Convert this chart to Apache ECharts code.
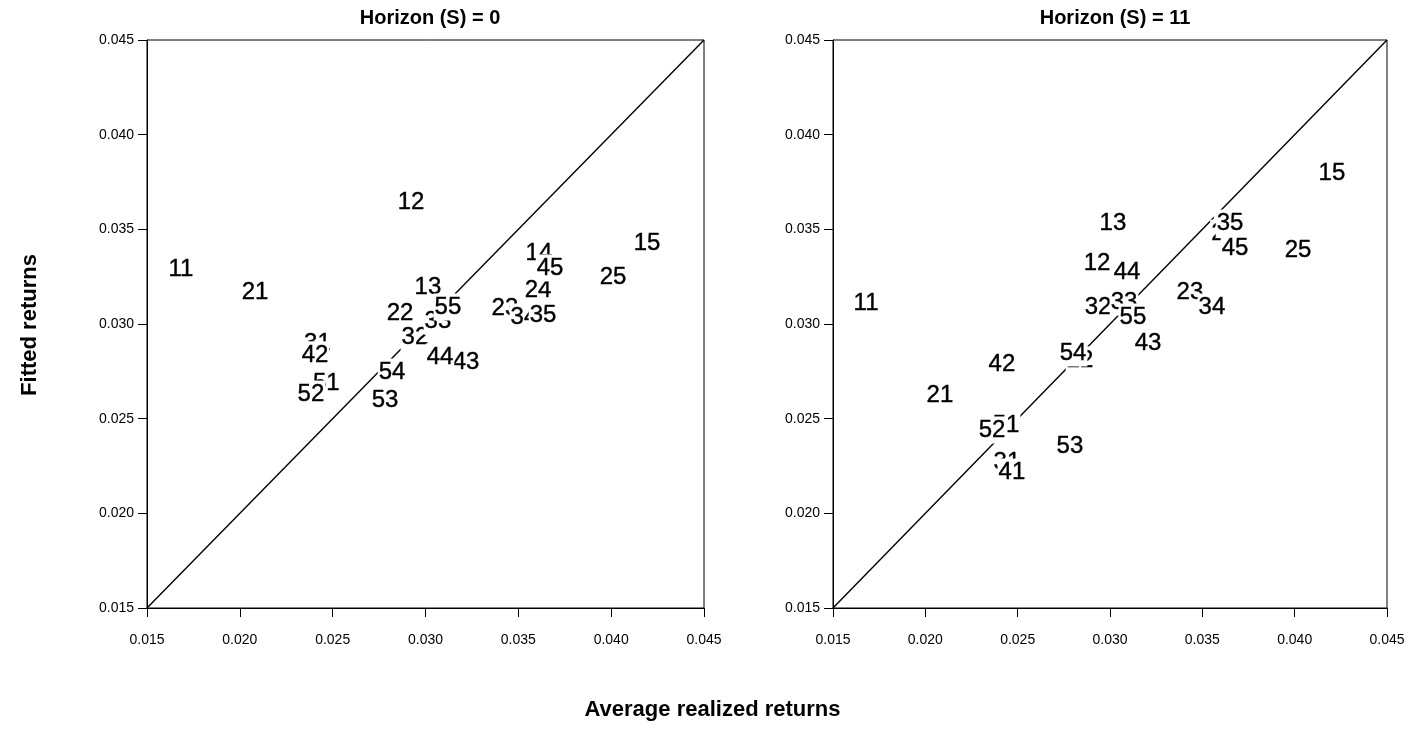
<!DOCTYPE html>
<html>
<head>
<meta charset="utf-8">
<script src="https://cdn.jsdelivr.net/npm/echarts@6/dist/echarts.min.js"></script>
<style>html,body{margin:0;padding:0;background:#fff}#c{width:1425px;height:736px}</style>
</head>
<body>
<div id="c"></div>
<script>
const labels = ['11','12','13','14','15','21','22','23','24','25','31','32','33','34','35','41','42','43','44','45','51','52','53','54','55'];
const leftX = [0.01683,0.02922,0.03013,0.03611,0.04193,0.02082,0.02863,0.03428,0.03606,0.04010,0.02418,0.02943,0.03067,0.03530,0.03633,0.02403,0.02405,0.03218,0.03078,0.03671,0.02466,0.02383,0.02782,0.02820,0.03121];
const leftY = [0.03290,0.03644,0.03195,0.03375,0.03428,0.03169,0.03058,0.03084,0.03180,0.03248,0.02900,0.02931,0.03015,0.03037,0.03048,0.02836,0.02836,0.02799,0.02826,0.03296,0.02685,0.02630,0.02599,0.02746,0.03090];
const rightX = [0.01679,0.02930,0.03016,0.03640,0.04202,0.02079,0.02838,0.03433,0.03620,0.04018,0.02442,0.02935,0.03076,0.03552,0.03650,0.02469,0.02415,0.03206,0.03092,0.03677,0.02437,0.02361,0.02783,0.02800,0.03124];
const rightY = [0.03111,0.03322,0.03533,0.03520,0.03798,0.02625,0.02810,0.03169,0.03480,0.03391,0.02271,0.03090,0.03116,0.03090,0.03533,0.02218,0.02789,0.02900,0.03275,0.03401,0.02467,0.02440,0.02356,0.02847,0.03037];
const panelTitles = ['Horizon (S) = 0', 'Horizon (S) = 11'];
const axisMin = 0.015, axisMax = 0.045, axisStep = 0.005;
const xTitle = 'Average realized returns';
const yTitle = 'Fitted returns';

const FONT = '"Liberation Sans", Arial, sans-serif';
const chart = echarts.init(document.getElementById('c'));

function mkAxis(i, type) {
  return {
    type: 'value', gridIndex: i, min: axisMin, max: axisMax, interval: axisStep,
    axisLine: {show: true, onZero: false, lineStyle: {color: '#000', width: 1}},
    axisTick: {show: true, inside: false, length: 9, lineStyle: {color: '#000'}},
    axisLabel: {color: '#000', fontSize: 14, fontFamily: FONT, margin: type === 'x' ? 25 : 13,
      formatter: v => v.toFixed(3)},
    splitLine: {show: false}
  };
}
function labelSeries(i, xs, ys) {
  return {
    type: 'custom', xAxisIndex: i, yAxisIndex: i, z: 5, silent: true,
    data: xs.map((x, k) => [x, ys[k]]),
    renderItem: function (params, api) {
      const p = api.coord([api.value(0), api.value(1)]);
      return {
        type: 'text', x: p[0], y: p[1], z2: params.dataIndex,
        style: {
          text: labels[params.dataIndex], fill: '#000',
          font: '24px ' + FONT, align: 'center', verticalAlign: 'middle',
          backgroundColor: '#fff', padding: [0, 1], lineHeight: 27,
          stroke: '#000', lineWidth: 0.4
        }
      };
    }
  };
}
function diag(i) {
  return {type: 'line', xAxisIndex: i, yAxisIndex: i, z: 1, symbol: 'none', silent: true,
    lineStyle: {color: '#000', width: 1.4}, data: [[axisMin, axisMin], [axisMax, axisMax]]};
}

chart.setOption({
  animation: false,
  backgroundColor: '#fff',
  title: [
    {text: panelTitles[0], left: 425, top: 3, textAlign: 'center', textStyle: {fontSize: 20, fontWeight: 'bold', fontFamily: FONT, color: '#000'}},
    {text: panelTitles[1], left: 1110, top: 3, textAlign: 'center', textStyle: {fontSize: 20, fontWeight: 'bold', fontFamily: FONT, color: '#000'}}
  ],
  grid: [
    {left: 147, right: 721, top: 40, bottom: 128, show: true, borderColor: '#000', borderWidth: 1, backgroundColor: 'transparent'},
    {left: 833, right: 38, top: 40, bottom: 128, show: true, borderColor: '#000', borderWidth: 1, backgroundColor: 'transparent'}
  ],
  xAxis: [mkAxis(0, 'x'), mkAxis(1, 'x')],
  yAxis: [mkAxis(0, 'y'), mkAxis(1, 'y')],
  series: [diag(0), diag(1), labelSeries(0, leftX, leftY), labelSeries(1, rightX, rightY)],
  graphic: [
    {type: 'text', left: 'center', top: 699, style: {text: xTitle, fontSize: 22, fontWeight: 'bold', fontFamily: FONT, fill: '#000'}},
    {type: 'text', x: 30, y: 325, rotation: Math.PI / 2, style: {text: yTitle, fontSize: 22, fontWeight: 'bold', fontFamily: FONT, fill: '#000', align: 'center', verticalAlign: 'middle'}}
  ]
});
</script>
</body>
</html>
